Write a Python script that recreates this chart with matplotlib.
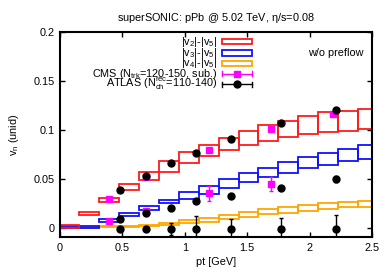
import numpy as np
import matplotlib
matplotlib.use("Agg")
import matplotlib.pyplot as plt
from matplotlib.ticker import FuncFormatter

# ─────────────────────────────────────────────
# Daten
# ─────────────────────────────────────────────
bin_centers = np.array([0.07, 0.23, 0.39, 0.55, 0.71, 0.87, 1.03, 1.19,
                        1.35, 1.51, 1.67, 1.83, 1.99, 2.15, 2.31, 2.47])
bin_width = 0.16

v2_lo = [0.000, 0.013, 0.026, 0.039, 0.049, 0.057, 0.066, 0.073,
         0.080, 0.085, 0.089, 0.093, 0.096, 0.098, 0.099, 0.101]
v2_hi = [0.003, 0.016, 0.031, 0.045, 0.057, 0.068, 0.077, 0.085,
         0.092, 0.099, 0.105, 0.109, 0.114, 0.118, 0.119, 0.121]

v3_lo = [0.000, 0.000, 0.006, 0.012, 0.018, 0.025, 0.030, 0.035,
         0.041, 0.047, 0.052, 0.056, 0.061, 0.064, 0.068, 0.070]
v3_hi = [0.002, 0.002, 0.009, 0.015, 0.022, 0.029, 0.037, 0.043,
         0.050, 0.056, 0.061, 0.067, 0.072, 0.076, 0.081, 0.085]

v4_lo = [0.000, 0.000, 0.0005, 0.001, 0.0015, 0.003, 0.0048, 0.0065,
         0.009, 0.0112, 0.014, 0.0155, 0.0175, 0.019, 0.021, 0.0215]
v4_hi = [0.001, 0.001, 0.0015, 0.002, 0.003, 0.0055, 0.008, 0.0105,
         0.013, 0.016, 0.019, 0.021, 0.0237, 0.0252, 0.0267, 0.0278]

cms_pt_v2 = [0.39, 0.69, 1.19, 1.69, 2.19]
cms_v2 = [0.0293, 0.052, 0.080, 0.1007, 0.116]
cms_v2_err = [0.001, 0.001, 0.002, 0.002, 0.002]
cms_pt_v3 = [0.39, 0.69, 1.19, 1.69]
cms_v3 = [0.0071, 0.0173, 0.0354, 0.0449]
cms_v3_err = [0.001, 0.002, 0.0075, 0.0068]

atlas_pt = [0.48, 0.69, 0.89, 1.09, 1.37, 1.77, 2.21]
atlas_v2 = [0.0388, 0.053, 0.0667, 0.076, 0.0908, 0.1075, 0.1204]
atlas_v2_err = [0.001, 0.001, 0.001, 0.001, 0.001, 0.001, 0.002]
atlas_v3 = [0.0092, 0.015, 0.0207, 0.0279, 0.0327, 0.0411, 0.050]
atlas_v3_err = [0.001, 0.001, 0.001, 0.001, 0.001, 0.002, 0.003]
atlas_v4 = [-0.001, -0.001, -0.001, -0.001, -0.001, -0.001, -0.001]
atlas_v4_err = [0.002, 0.002, 0.006, 0.013, 0.010, 0.011, 0.014]

red = "#ff1a1a"
blue = "#1010ff"
orange = "#ffa500"
magenta = "#ff00ff"

plt.rcParams["font.family"] = ["Liberation Sans", "DejaVu Sans"]
plt.rcParams["font.size"] = 7.8

fig = plt.figure(figsize=(3.9, 2.73), dpi=100)
ax = fig.add_axes([0.154, 0.132, 0.800, 0.751])

# ─────────────────────────────────────────────
# Hydro-Bänder als Kästen
# ─────────────────────────────────────────────
for lo, hi, col in [(v4_lo, v4_hi, orange), (v3_lo, v3_hi, blue), (v2_lo, v2_hi, red)]:
    lo = np.array(lo)
    hi = np.array(hi)
    ax.bar(bin_centers, hi - lo, bottom=lo, width=bin_width, fill=False,
           edgecolor=col, linewidth=1.3, zorder=2)

# Datenpunkte
ebar = dict(capsize=1.5, elinewidth=1.0, capthick=1.0, linestyle="none", zorder=4)
ax.errorbar(cms_pt_v2, cms_v2, yerr=cms_v2_err, marker="s", ms=4.5,
            color=magenta, mec=magenta, **ebar)
ax.errorbar(cms_pt_v3, cms_v3, yerr=cms_v3_err, marker="s", ms=4.5,
            color=magenta, mec=magenta, **ebar)
for vals, errs in [(atlas_v2, atlas_v2_err), (atlas_v3, atlas_v3_err), (atlas_v4, atlas_v4_err)]:
    ax.errorbar(atlas_pt, vals, yerr=errs, marker="o", ms=5, color="black", **ebar)

ax.set_xlim(0, 2.5)
ax.set_ylim(-0.0092, 0.2)
ax.set_xticks([0, 0.5, 1, 1.5, 2, 2.5])
ax.set_yticks([0, 0.05, 0.1, 0.15, 0.2])
ax.xaxis.set_major_formatter(FuncFormatter(lambda v, p: f"{v:g}"))
ax.yaxis.set_major_formatter(FuncFormatter(lambda v, p: f"{v:g}"))
ax.tick_params(direction="in", length=3.5, width=1.0, top=True, right=True, pad=4)
for s in ax.spines.values():
    s.set_linewidth(1.5)

ax.set_xlabel("pt [GeV]", labelpad=3)
ax.set_ylabel("v$_\\mathregular{n}$ (unid)", labelpad=9)
ax.set_title("superSONIC: pPb @ 5.02 TeV, $\\mathregular{\\eta}$/s=0.08", pad=8, fontsize=7.8)

# ─────────────────────────────────────────────
# Legende im gnuplot-Stil
# ─────────────────────────────────────────────
tx = 0.503
sx0, sx1 = 0.519, 0.615
rows = [0.952, 0.898, 0.847, 0.797, 0.744]
labels = ["|v$_\\mathregular{2}$|-|v$_\\mathregular{5}$|",
          "|v$_\\mathregular{3}$|-|v$_\\mathregular{5}$|",
          "|v$_\\mathregular{4}$|-|v$_\\mathregular{5}$|",
          "CMS (N$_\\mathregular{trk}$=120-150, sub.)",
          "ATLAS (N$_\\mathregular{ch}^\\mathregular{rec}$=110-140)"]
for y, lab in zip(rows, labels):
    ax.text(tx, y, lab, transform=ax.transAxes, ha="right", va="center")
for y, col in zip(rows[:3], [red, blue, orange]):
    ax.add_patch(plt.Rectangle((sx0, y - 0.013), sx1 - sx0, 0.026, transform=ax.transAxes,
                               fill=False, edgecolor=col, linewidth=1.3, clip_on=False))
for y, col, mk, ms in [(rows[3], magenta, "s", 4.5), (rows[4], "black", "o", 5)]:
    ax.plot([sx0, sx1], [y, y], transform=ax.transAxes, color=col, lw=1.0)
    ax.plot([sx0, sx0], [y - 0.012, y + 0.012], transform=ax.transAxes, color=col, lw=1.0)
    ax.plot([sx1, sx1], [y - 0.012, y + 0.012], transform=ax.transAxes, color=col, lw=1.0)
    ax.plot([(sx0 + sx1) / 2], [y], transform=ax.transAxes, marker=mk, ms=ms, color=col)

ax.text(0.885, 0.898, "w/o preflow", transform=ax.transAxes, ha="center", va="center")

fig.savefig("out.png", dpi=100)
